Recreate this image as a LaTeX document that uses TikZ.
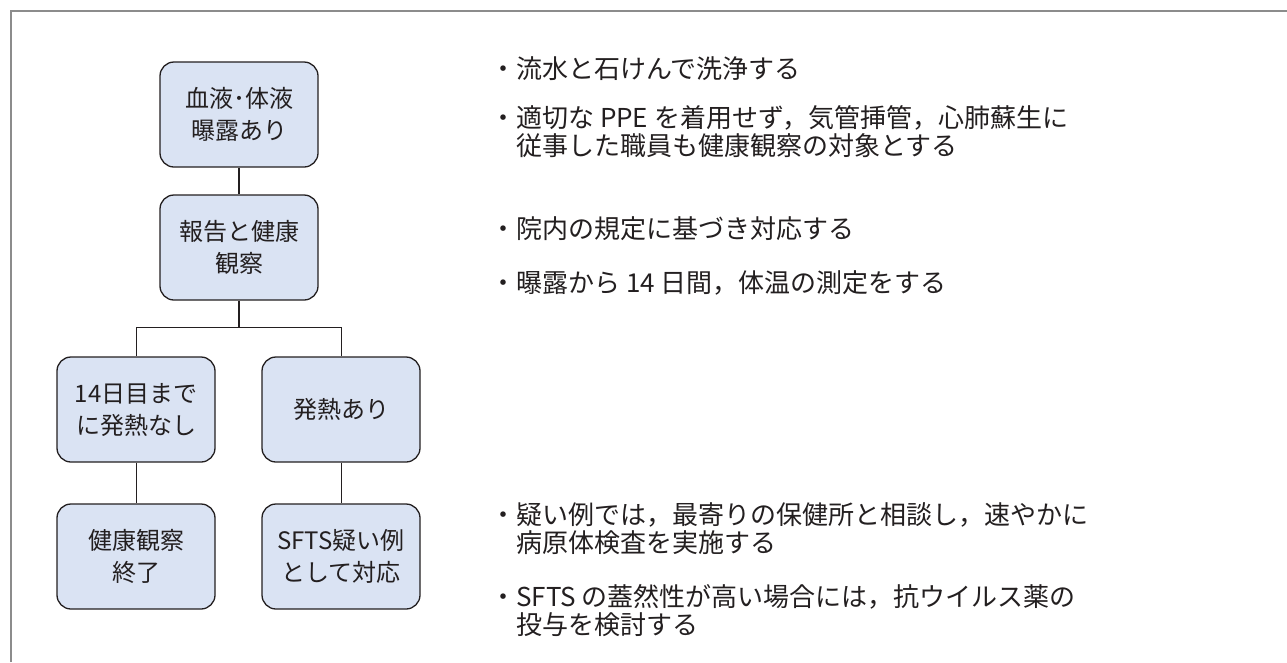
\documentclass[tikz,border=0pt]{standalone}
\usepackage{fontspec}
\newfontfamily\jpfont{Noto Sans CJK JP}
\usepackage{tikz}
\usetikzlibrary{positioning}
\definecolor{boxfill}{HTML}{DAE3F3}
\definecolor{framegray}{HTML}{8C8C8C}
\definecolor{inkgray}{HTML}{231F20}

\begin{document}
\begin{tikzpicture}[x=1pt,y=1pt,node distance=133pt,on grid,
  flowbox/.style={draw=inkgray,fill=boxfill,rounded corners=14pt,line width=1.3pt,
    minimum width=158pt,minimum height=105pt,align=center,text=inkgray,
    font=\jpfont\fontsize{24}{32}\selectfont},
  note/.style={anchor=base west,align=left,inner sep=0pt,text=inkgray,
    font=\jpfont\fontsize{26}{28}\selectfont}]
   \useasboundingbox (0,0) rectangle (1287,-662);
   \draw[framegray,line width=1.5pt] (11,-662) -- (11,-11) -- (1287,-11);

   \node[flowbox] (expo) at (239,-114.5) {血液･体液\\曝露あり};
   \node[flowbox] (report)  [below=of expo]  {報告と健康\\観察};
   \node[flowbox] (nofever) [below left=162pt and 103pt of report] {14日目まで\\に発熱なし};
   \node[flowbox] (fever)   [right=205pt of nofever] {発熱あり};
   \node[flowbox] (endobs)  [below=147pt of nofever] {健康観察\\終了};
   \node[flowbox] (sfts)    [below=147pt of fever]   {SFTS疑い例\\として対応};
   \coordinate[below=79.5pt of report] (split);

   \draw[inkgray,line width=1.3pt]
    (expo) -- (report)
    (report) -- (split);
   \draw[inkgray,line width=1pt]
    (split) -| (nofever)
    (split) -| (fever)
    (nofever) -- (endobs)
    (fever) -- (sfts);

   % notes on the right (base = last line)
   \node[note] (wash)   at (490,-78)  {・流水と石けんで洗浄する};
   \node[note] (ppe)    at (490,-155) {・適切な PPE を着用せず，気管挿管，心肺蘇生に\\　従事した職員も健康観察の対象とする};
   \node[note] (rule)   at (490,-238) {・院内の規定に基づき対応する};
   \node[note] (temp)   at (490,-292) {・曝露から 14 日間，体温の測定をする};
   \node[note] (consult) at (490,-552) {・疑い例では，最寄りの保健所と相談し，速やかに\\　病原体検査を実施する};
   \node[note] (antiviral) at (490,-634) {・SFTS の蓋然性が高い場合には，抗ウイルス薬の\\　投与を検討する};
\end{tikzpicture}
\end{document}
